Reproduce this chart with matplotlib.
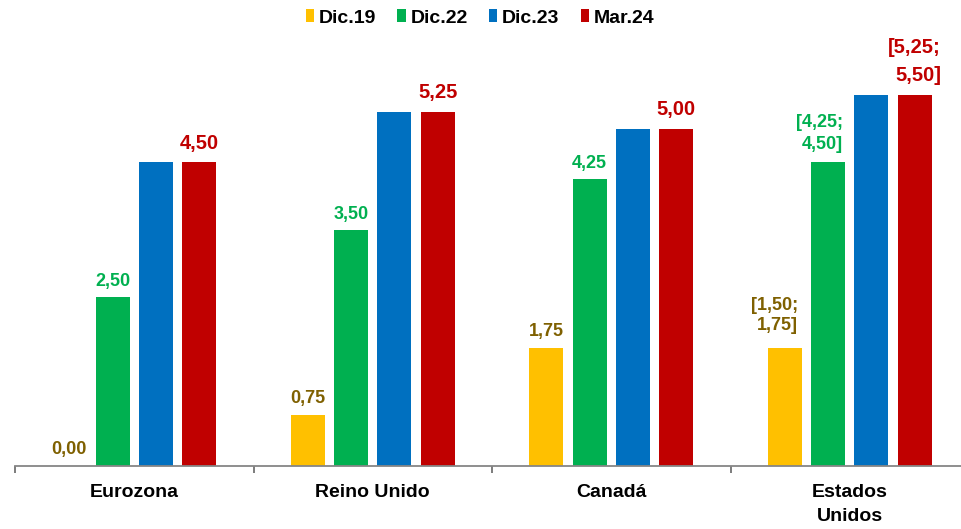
import matplotlib
matplotlib.use("Agg")
import matplotlib.pyplot as plt
from matplotlib.patches import Patch

plt.rcParams["font.family"] = ["Liberation Sans", "DejaVu Sans"]
plt.rcParams["font.weight"] = "bold"

# datos
paises = ["Eurozona", "Reino Unido", "Canadá", "Estados\nUnidos"]
series = ["Dic.19", "Dic.22", "Dic.23", "Mar.24"]
dic19 = [0.00, 0.75, 1.75, 1.75]
dic22 = [2.50, 3.50, 4.25, 4.50]
dic23 = [4.50, 5.25, 5.00, 5.50]
mar24 = [4.50, 5.25, 5.00, 5.50]
etiq_dic19 = ["0,00", "0,75", "1,75", "[1,50;\n1,75]"]
etiq_dic22 = ["2,50", "3,50", "4,25", "[4,25;\n4,50]"]
etiq_mar24 = ["4,50", "5,25", "5,00", "[5,25;\n5,50]"]

colores = ["#FFC000", "#00B050", "#0070C0", "#C00000"]
col_txt = ["#7F6000", "#00B050", None, "#C00000"]

W, H = 961, 529
fig = plt.figure(figsize=(W / 100, H / 100), dpi=100)
base_px = 466
top_px = 30
ax = fig.add_axes([15 / W, (H - base_px) / H, (W - 15) / W, (base_px - top_px) / H])

px_unit = 67.5
ax.set_ylim(0, (base_px - top_px) / px_unit)
grupo_px = 238.5
ax.set_xlim(0, (W - 15) / grupo_px)

step = 43.3 / grupo_px
ancho = 34 / grupo_px
valores = [dic19, dic22, dic23, mar24]
etiquetas = [etiq_dic19, etiq_dic22, None, etiq_mar24]
tamanos = [13, 13, None, 14.5]
gaps = [6, 5, None, 7]

# ajustes de las etiquetas de rango (EE.UU.)
rango_dx = {0: -7.5, 1: -6, 3: 0}
rango_gap = {0: 10, 1: 7, 3: 7}
rango_ls = {0: 1.25, 1: 1.35, 3: 1.6}

for j, (vals, nombre) in enumerate(zip(valores, series)):
    xs = [i + 0.5 + (j - 1.5) * step for i in range(len(paises))]
    ax.bar(xs, vals, width=ancho, color=colores[j], zorder=2)
    if etiquetas[j] is None:
        continue
    for i, (x, v, t) in enumerate(zip(xs, vals, etiquetas[j])):
        dx, gap, ls = 0, gaps[j], 1.2
        if "\n" in t:
            dx, gap, ls = rango_dx[j], rango_gap[j], rango_ls[j]
        ax.annotate(t, (x, v), xytext=(dx, gap), textcoords="offset points",
                    ha="center", va="bottom", color=col_txt[j],
                    fontsize=tamanos[j], fontweight="bold",
                    multialignment="right", linespacing=ls)

for s in ["top", "right", "left"]:
    ax.spines[s].set_visible(False)
ax.spines["bottom"].set_color("#868686")
ax.spines["bottom"].set_linewidth(1.3)
ax.set_yticks([])

ax.set_xticks([i + 0.5 for i in range(len(paises))])
ax.set_xticklabels(paises, fontsize=14, fontweight="bold", linespacing=1.55)
ax.tick_params(axis="x", which="major", length=0, pad=13)
ax.set_xticks(range(len(paises)), minor=True)
ax.tick_params(axis="x", which="minor", length=5, width=1.1, color="#595959", direction="out")

handles = [Patch(facecolor=c, edgecolor="none") for c in colores]
fig.legend(handles, series, loc="center", bbox_to_anchor=(480 / W, 1 - 18 / H),
           ncol=4, frameon=False, handlelength=0.42, handleheight=0.6,
           handletextpad=0.25, columnspacing=1.1, prop={"weight": "bold", "size": 14})

fig.savefig("out.png", dpi=100)
